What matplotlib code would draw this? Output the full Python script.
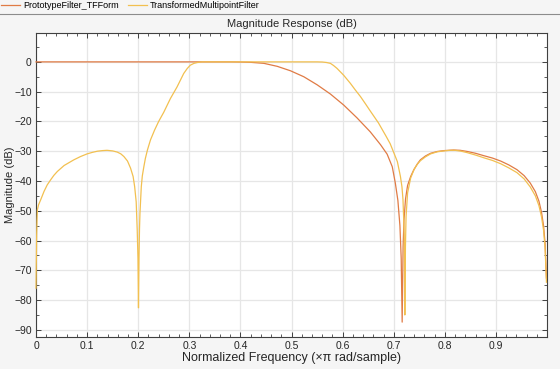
import numpy as np
import matplotlib
matplotlib.use("Agg")
import matplotlib.pyplot as plt
from matplotlib.ticker import MultipleLocator
from matplotlib.lines import Line2D

plt.rcParams['font.family'] = ['Liberation Sans', 'DejaVu Sans']

# Prototype filter (lowpass)
proto_f = [0.0, 0.10, 0.20, 0.30, 0.38, 0.40, 0.42, 0.446, 0.472, 0.498, 0.524,
           0.550, 0.576, 0.602, 0.628, 0.654, 0.674, 0.687, 0.697, 0.703,
           0.708, 0.712, 0.7145, 0.7164, 0.7182, 0.720, 0.723, 0.727, 0.733,
           0.739, 0.746, 0.752, 0.762, 0.772, 0.785, 0.798, 0.817, 0.830,
           0.844, 0.860, 0.876, 0.893, 0.909, 0.925, 0.941, 0.955, 0.967,
           0.977, 0.984, 0.989, 0.993, 0.996, 0.9987]
proto_db = [0.0, 0.0, 0.0, 0.0, 0.0, -0.05, -0.15, -0.5, -1.5, -3.0, -5.0,
            -7.7, -10.8, -14.5, -18.8, -23.5, -27.8, -31.0, -35.2, -40.7,
            -46.5, -55.0, -66.0, -87.4, -62.0, -53.0, -46.0, -41.5, -38.5,
            -36.3, -34.3, -32.9, -31.6, -30.7, -30.1, -29.8, -29.6, -29.7,
            -30.1, -30.7, -31.5, -32.3, -33.3, -34.6, -36.2, -38.2, -40.7,
            -43.6, -46.8, -50.5, -55.0, -61.0, -72.6]

# Transformed multipoint filter
trans_f = [0.0, 0.0007, 0.0013, 0.002, 0.0027, 0.005, 0.0092, 0.0157, 0.022,
           0.0287, 0.035, 0.0418, 0.055, 0.074, 0.087, 0.100, 0.110, 0.120,
           0.130, 0.139, 0.150, 0.159, 0.166, 0.172, 0.179, 0.185, 0.190,
           0.193, 0.196, 0.198, 0.1995, 0.2005, 0.2015, 0.2025, 0.2034, 0.206,
           0.208, 0.211, 0.214, 0.218, 0.224, 0.232, 0.240, 0.250, 0.263,
           0.276, 0.289, 0.296, 0.302, 0.309, 0.316, 0.325, 0.40, 0.50, 0.55,
           0.56, 0.568, 0.576, 0.582, 0.589, 0.602, 0.615, 0.625, 0.635,
           0.645, 0.654, 0.670, 0.685, 0.693, 0.700, 0.707, 0.713, 0.716,
           0.718, 0.7205, 0.7216, 0.7228, 0.724, 0.727, 0.733, 0.740, 0.746,
           0.752, 0.762, 0.772, 0.785, 0.798, 0.810, 0.820, 0.832, 0.844,
           0.860, 0.876, 0.893, 0.909, 0.925, 0.941, 0.955, 0.967, 0.977,
           0.984, 0.989, 0.993, 0.996, 0.9987]
trans_db = [-76.0, -66.0, -58.0, -53.0, -49.7, -48.0, -46.3, -43.5, -41.3,
            -39.6, -38.1, -36.8, -34.8, -32.9, -31.8, -30.9, -30.4, -30.0,
            -29.8, -29.7, -29.9, -30.3, -30.9, -31.8, -33.3, -35.7, -38.5,
            -41.9, -47.0, -56.4, -66.0, -82.6, -66.0, -56.0, -50.8, -41.9,
            -38.3, -35.2, -32.4, -29.6, -26.2, -22.9, -20.0, -16.9, -12.3,
            -8.4, -3.9, -2.2, -1.1, -0.5, -0.2, 0.0, 0.0, 0.0, 0.0,
            -0.05, -0.2, -0.5, -1.2, -2.2, -4.5, -7.2, -9.5, -11.7,
            -14.2, -16.5, -20.5, -25.0, -27.5, -30.5, -33.5, -38.5, -42.0,
            -46.3, -58.0, -85.0, -62.0, -52.0, -44.0, -39.0, -36.0, -34.4,
            -33.2, -31.9, -30.9, -30.2, -29.9, -29.7, -29.7, -30.0, -30.5,
            -31.3, -32.2, -33.1, -34.2, -35.6, -37.2, -39.3, -42.0, -45.0,
            -48.3, -52.0, -56.5, -62.5, -74.0]

orange = '#E07B45'
yellow = '#F2C050'

fig = plt.figure(figsize=(5.6, 3.69), dpi=100, facecolor='#F5F5F5')
ax = fig.add_axes([0.0643, 0.0867, 0.9127, 0.8239])
ax.set_facecolor('white')

ax.plot(proto_f, proto_db, color=orange, lw=0.9, zorder=3, clip_on=False)
ax.plot(trans_f, trans_db, color=yellow, lw=0.9, zorder=3, clip_on=False)

ax.set_xlim(0, 1.0)
ax.set_ylim(-92.4, 9.7)
ax.xaxis.set_minor_locator(MultipleLocator(0.02))
ax.yaxis.set_minor_locator(MultipleLocator(5))
ax.set_xticks(np.arange(0, 0.95, 0.1))
ax.set_xticklabels(['0'] + ['%.1f' % v for v in np.arange(0.1, 0.95, 0.1)])
ax.set_yticks(np.arange(-90, 1, 10))
ax.tick_params(which='both', direction='in', top=True, right=True,
               labelsize=7.5, colors='#404040', labelcolor='#262626', pad=3)
ax.tick_params(which='major', length=3.5, width=0.7)
ax.tick_params(which='minor', length=2, width=0.6)
ax.grid(True, which='major', color='#E6E6E6', lw=0.9)
ax.set_axisbelow(True)
for s in ax.spines.values():
    s.set_color('#404040')
    s.set_linewidth(0.8)

ax.set_title('Magnitude Response (dB)', fontsize=8, color='#262626', pad=4)
ax.set_xlabel('Normalized Frequency (\u00d7\u03c0 rad/sample)', fontsize=9,
              color='#262626')
ax.xaxis.set_label_coords(0.5, -0.048)
ax.set_ylabel('Magnitude (dB)', fontsize=8, color='#262626')
ax.yaxis.set_label_coords(-0.042, 0.5)

handles = [Line2D([], [], color=orange, lw=0.9),
           Line2D([], [], color=yellow, lw=0.9)]
fig.legend(handles, ['PrototypeFilter_TFForm', 'TransformedMultipointFilter'],
           loc='upper left', bbox_to_anchor=(-0.012, 1.02), ncol=2,
           frameon=False, fontsize=6.5, handlelength=2.1, handletextpad=0.3,
           columnspacing=1.0)
fig.add_artist(Line2D([0, 1], [1 - 13.5 / 369, 1 - 13.5 / 369],
                      transform=fig.transFigure, color='#8C8C8C', lw=0.8))

fig.savefig('out.png', dpi=100, facecolor=fig.get_facecolor())
